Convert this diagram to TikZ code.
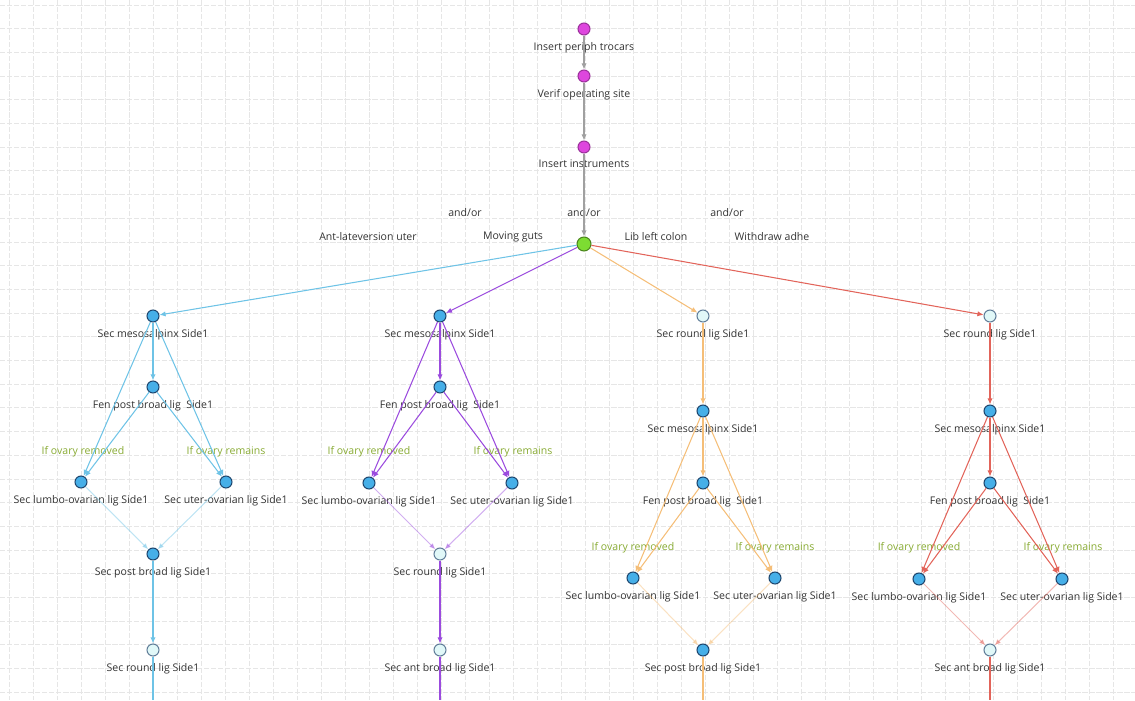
\documentclass[tikz,border=0pt]{standalone}
\usepackage{fontspec}
\setmainfont{Open Sans}
\usetikzlibrary{arrows.meta}

\definecolor{topfill}{RGB}{222,70,222}
\definecolor{dotfill}{RGB}{70,175,232}
\definecolor{dotdraw}{RGB}{30,70,110}
\definecolor{openfill}{RGB}{225,248,248}
\definecolor{startfill}{RGB}{125,220,50}
\definecolor{grayline}{RGB}{160,160,160}
\definecolor{cyanline}{RGB}{110,195,230}
\definecolor{purpleline}{RGB}{155,75,222}
\definecolor{orangeline}{RGB}{245,190,120}
\definecolor{redline}{RGB}{226,100,90}
\definecolor{condtext}{RGB}{135,170,50}
\definecolor{gridline}{RGB}{230,230,230}

\tikzset{
	basedot/.style={circle, inner sep=0pt, minimum size=0.24cm, line width=0.6pt},
	topdot/.style={basedot, fill=topfill, draw=topfill!70!black},
	bluedot/.style={basedot, fill=dotfill, draw=dotdraw},
	opendot/.style={basedot, fill=openfill, draw=dotdraw!70},
	startdot/.style={basedot, minimum size=0.28cm, fill=startfill, draw=startfill!60!black},
	lbl/.style={font=\fontsize{6}{7}\selectfont, text=black!80, inner sep=1pt},
	lab/.style={label={[lbl, label distance=2.5pt]below:#1}},
	cond/.style={lbl, text=condtext},
	flow/.style={line width=0.6pt, -{Latex[length=3.5pt,width=3pt]}},
	mergeflow/.style={flow, opacity=0.45},
}

\begin{document}
\begin{tikzpicture}[x=0.02cm, y=-0.02cm]
		
		\useasboundingbox (0,0) rectangle (1135,700);
		
		% grid
		\foreach \i in {0,...,46}{
			\draw[gridline, line width=0.5pt, dash pattern=on 3pt off 1pt] (9+24*\i,0)--(9+24*\i,700);
		}
		\foreach \j in {0,...,29}{
			\draw[gridline, line width=0.5pt, dash pattern=on 3pt off 1pt] (0,5+23.7*\j)--(1135,5+23.7*\j);
		}
		
		% common start
		\node[topdot, lab=Insert periph trocars] (trocars) at (584,29) {};
		\node[topdot, lab=Verif operating site] (verif) at (584,76) {};
		\node[topdot, lab=Insert instruments] (instr) at (584,147) {};
		\node[startdot] (start) at (584,244) {};
		
		\node[lbl] (or1) at (465,213) {and/or};
		\node[lbl] (or2) at (584,213) {and/or};
		\node[lbl] (or3) at (727,213) {and/or};
		\node[lbl] (opt1) at (368,237) {Ant-lateversion uter};
		\node[lbl] (opt2) at (513,237) {Moving guts};
		\node[lbl] (opt3) at (656,237) {Lib left colon};
		\node[lbl] (opt4) at (772,237) {Withdraw adhe};
		
		% branch 1
		\node[bluedot, lab=Sec mesosalpinx Side1] (b1meso) at (153,316) {};
		\node[bluedot, lab=Fen post broad lig~~Side1] (b1fen) at (153,387) {};
		\node[bluedot, lab=Sec lumbo-ovarian lig Side1] (b1lumbo) at (81,482) {};
		\node[bluedot, lab=Sec uter-ovarian lig Side1] (b1uter) at (226,482) {};
		\node[bluedot, lab=Sec post broad lig Side1] (b1post) at (153,554) {};
		\node[opendot, lab=Sec round lig Side1] (b1round) at (153,650) {};
		\coordinate (b1end) at (153,700);
		\node[cond] (b1rem) at (83,452) {If ovary removed};
		\node[cond] (b1stay) at (226,452) {If ovary remains};
		
		% branch 2
		\node[bluedot, lab=Sec mesosalpinx Side1] (b2meso) at (440,316) {};
		\node[bluedot, lab=Fen post broad lig~~Side1] (b2fen) at (440,387) {};
		\node[bluedot, lab=Sec lumbo-ovarian lig Side1] (b2lumbo) at (369,483) {};
		\node[bluedot, lab=Sec uter-ovarian lig Side1] (b2uter) at (512,483) {};
		\node[opendot, lab=Sec round lig Side1] (b2round) at (440,554) {};
		\node[opendot, lab=Sec ant broad lig Side1] (b2ant) at (440,650) {};
		\coordinate (b2end) at (440,700);
		\node[cond] (b2rem) at (369,452) {If ovary removed};
		\node[cond] (b2stay) at (513,452) {If ovary remains};
		
		% branch 3
		\node[opendot, lab=Sec round lig Side1] (b3round) at (703,316) {};
		\node[bluedot, lab=Sec mesosalpinx Side1] (b3meso) at (703,411) {};
		\node[bluedot, lab=Fen post broad lig~~Side1] (b3fen) at (703,483) {};
		\node[bluedot, lab=Sec lumbo-ovarian lig Side1] (b3lumbo) at (633,578) {};
		\node[bluedot, lab=Sec uter-ovarian lig Side1] (b3uter) at (775,578) {};
		\node[bluedot, lab=Sec post broad lig Side1] (b3post) at (703,650) {};
		\coordinate (b3end) at (703,700);
		\node[cond] (b3rem) at (633,548) {If ovary removed};
		\node[cond] (b3stay) at (775,548) {If ovary remains};
		
		% branch 4
		\node[opendot, lab=Sec round lig Side1] (b4round) at (990,316) {};
		\node[bluedot, lab=Sec mesosalpinx Side1] (b4meso) at (990,411) {};
		\node[bluedot, lab=Fen post broad lig~~Side1] (b4fen) at (990,483) {};
		\node[bluedot, lab=Sec lumbo-ovarian lig Side1] (b4lumbo) at (919,579) {};
		\node[bluedot, lab=Sec uter-ovarian lig Side1] (b4uter) at (1062,579) {};
		\node[opendot, lab=Sec ant broad lig Side1] (b4ant) at (990,650) {};
		\coordinate (b4end) at (990,700);
		\node[cond] (b4rem) at (919,548) {If ovary removed};
		\node[cond] (b4stay) at (1063,548) {If ovary remains};
		
		% connectors
		\draw[flow, grayline] (trocars)--(verif);
		\draw[flow, grayline] (verif)--(instr);
		\draw[flow, grayline] (instr)--(start);
		
		\draw[flow, cyanline] (start)--(b1meso);
		\draw[flow, purpleline] (start)--(b2meso);
		\draw[flow, orangeline] (start)--(b3round);
		\draw[flow, redline] (start)--(b4round);
		
		\foreach \b/\c in {1/cyanline, 2/purpleline}{
			\draw[flow, \c] (b\b meso)--(b\b fen);
			\draw[flow, \c] (b\b meso)--(b\b lumbo);
			\draw[flow, \c] (b\b meso)--(b\b uter);
			\draw[flow, \c] (b\b fen)--(b\b lumbo);
			\draw[flow, \c] (b\b fen)--(b\b uter);
		}
		\draw[mergeflow, cyanline] (b1lumbo)--(b1post);
		\draw[mergeflow, cyanline] (b1uter)--(b1post);
		\draw[flow, cyanline] (b1post)--(b1round);
		\draw[line width=0.6pt, cyanline] (b1round)--(b1end);
		\draw[mergeflow, purpleline] (b2lumbo)--(b2round);
		\draw[mergeflow, purpleline] (b2uter)--(b2round);
		\draw[flow, purpleline] (b2round)--(b2ant);
		\draw[line width=0.6pt, purpleline] (b2ant)--(b2end);
		
		\foreach \b/\c in {3/orangeline, 4/redline}{
			\draw[flow, \c] (b\b round)--(b\b meso);
			\draw[flow, \c] (b\b meso)--(b\b fen);
			\draw[flow, \c] (b\b meso)--(b\b lumbo);
			\draw[flow, \c] (b\b meso)--(b\b uter);
			\draw[flow, \c] (b\b fen)--(b\b lumbo);
			\draw[flow, \c] (b\b fen)--(b\b uter);
		}
		\draw[mergeflow, orangeline] (b3lumbo)--(b3post);
		\draw[mergeflow, orangeline] (b3uter)--(b3post);
		\draw[line width=0.6pt, orangeline] (b3post)--(b3end);
		\draw[mergeflow, redline] (b4lumbo)--(b4ant);
		\draw[mergeflow, redline] (b4uter)--(b4ant);
		\draw[line width=0.6pt, redline] (b4ant)--(b4end);
		
\end{tikzpicture}
\end{document}
